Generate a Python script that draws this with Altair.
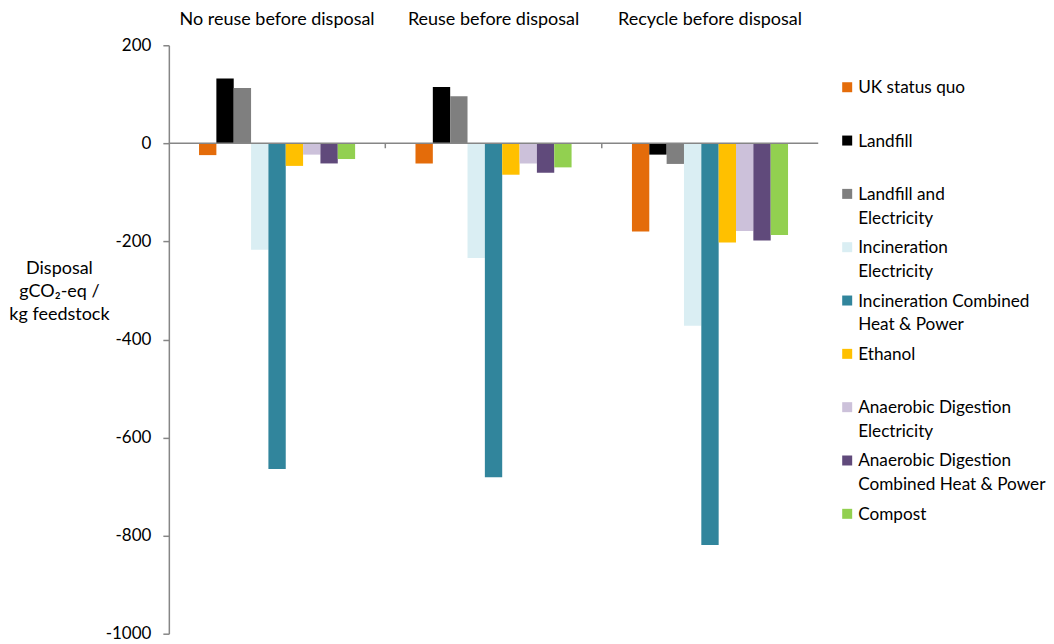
import altair as alt
import pandas as pd

# ---- data ----
groups = ["No reuse before disposal", "Reuse before disposal", "Recycle before disposal"]
series = [
    "UK status quo",
    "Landfill",
    "Landfill and Electricity",
    "Incineration Electricity",
    "Incineration Combined Heat & Power",
    "Ethanol",
    "Anaerobic Digestion Electricity",
    "Anaerobic Digestion Combined Heat & Power",
    "Compost",
]
legend_labels = [
    "UK status quo",
    "Landfill",
    "Landfill and\nElectricity",
    "Incineration\nElectricity",
    "Incineration Combined\nHeat & Power",
    "Ethanol",
    "Anaerobic Digestion\nElectricity",
    "Anaerobic Digestion\nCombined Heat & Power",
    "Compost",
]
colors = ["#E46C0A", "#000000", "#7F7F7F", "#DAEEF3", "#31859C",
          "#FFC000", "#CCC1DA", "#604A7B", "#92D050"]

no_reuse = [-24, 132, 113, -217, -664, -46, -23, -41, -32]
reuse = [-41, 115, 96, -234, -681, -64, -41, -60, -49]
recycle = [-180, -23, -42, -372, -819, -202, -179, -198, -187]

y_ticks = [-1000, -800, -600, -400, -200, 0, 200]
y_title = ["Disposal", "gCO\u2082-eq /", "kg feedstock"]

rows = []
for g, vals in zip(groups, [no_reuse, reuse, recycle]):
    for s, v in zip(series, vals):
        rows.append({"group": g, "series": s, "value": v})
df = pd.DataFrame(rows)

FONT = "Lato"
W, H = 650, 589
AXIS_GREY = "#868686"
BAND = W / len(groups)
BAR = 17.36

color_scale = alt.Scale(domain=series, range=colors)
y_scale = alt.Scale(domain=[-1000, 200], nice=False, zero=False)
x_scale = alt.Scale(domain=groups, paddingInner=0, paddingOuter=0)
off_pad = (BAND - BAR * len(series)) / 2

bars = alt.Chart(df).mark_bar().encode(
    x=alt.X(
        "group:N", sort=groups, scale=x_scale,
        axis=alt.Axis(orient="top", title=None, domain=False, ticks=False,
                      labelAngle=0, labelFontSize=18, labelFont=FONT, labelLimit=0,
                      labelColor="black", labelPadding=17),
    ),
    xOffset=alt.XOffset("series:N", sort=series,
                        scale=alt.Scale(domain=series, paddingInner=0, paddingOuter=0,
                                        range=[off_pad, BAND - off_pad])),
    y=alt.Y(
        "value:Q", scale=y_scale,
        axis=alt.Axis(values=y_ticks, grid=False, domainColor=AXIS_GREY, domainWidth=1.5,
                      tickColor=AXIS_GREY, tickSize=6, tickWidth=1.5,
                      labelFontSize=17, labelFont=FONT, labelColor="black", labelPadding=12,
                      labelExpr="'' + datum.value",
                      title=y_title, titleAngle=0, titleAlign="center", titleBaseline="middle",
                      titleX=-110, titleY=223, titleFontSize=18, titleFont=FONT,
                      titleFontWeight="normal", titleColor="black", titleLineHeight=23),
    ),
    color=alt.Color("series:N", scale=color_scale, legend=None),
)

zero_line = alt.Chart(pd.DataFrame({"v": [0]})).mark_rule(
    color=AXIS_GREY, strokeWidth=1.5
).encode(y=alt.Y("v:Q", scale=y_scale))

sep_ticks = alt.Chart(pd.DataFrame({"group": groups[1:]})).mark_rule(
    color=AXIS_GREY, strokeWidth=1.5
).encode(
    x=alt.X("group:N", sort=groups, scale=x_scale, bandPosition=0),
    y=alt.datum(0),
    y2=alt.datum(-10),
)

main = alt.layer(bars, zero_line, sep_ticks).properties(width=W, height=H)

leg_df = pd.DataFrame({"series": series, "label": legend_labels})
leg_y = alt.Y("series:N", sort=series,
              scale=alt.Scale(type="point", domain=series, range=[42, 469], padding=0),
              axis=None)
swatches = alt.Chart(leg_df).mark_square(size=100, opacity=1).encode(
    y=leg_y, x=alt.value(10),
    color=alt.Color("series:N", scale=color_scale, legend=None),
)
texts = alt.Chart(leg_df).mark_text(
    align="left", baseline="alphabetic", dy=6, lineBreak="\n", lineHeight=24,
    fontSize=17.2, font=FONT, color="black",
).encode(y=leg_y, x=alt.value(21), text="label:N")
legend = alt.layer(swatches, texts).properties(width=180, height=H)

chart = alt.hconcat(main, legend, spacing=18).properties(
    padding={"left": 0, "top": 2, "right": 0, "bottom": 0}
).configure_view(stroke=None)

chart.save("out.html", embed_options={"renderer": "svg", "actions": False})
